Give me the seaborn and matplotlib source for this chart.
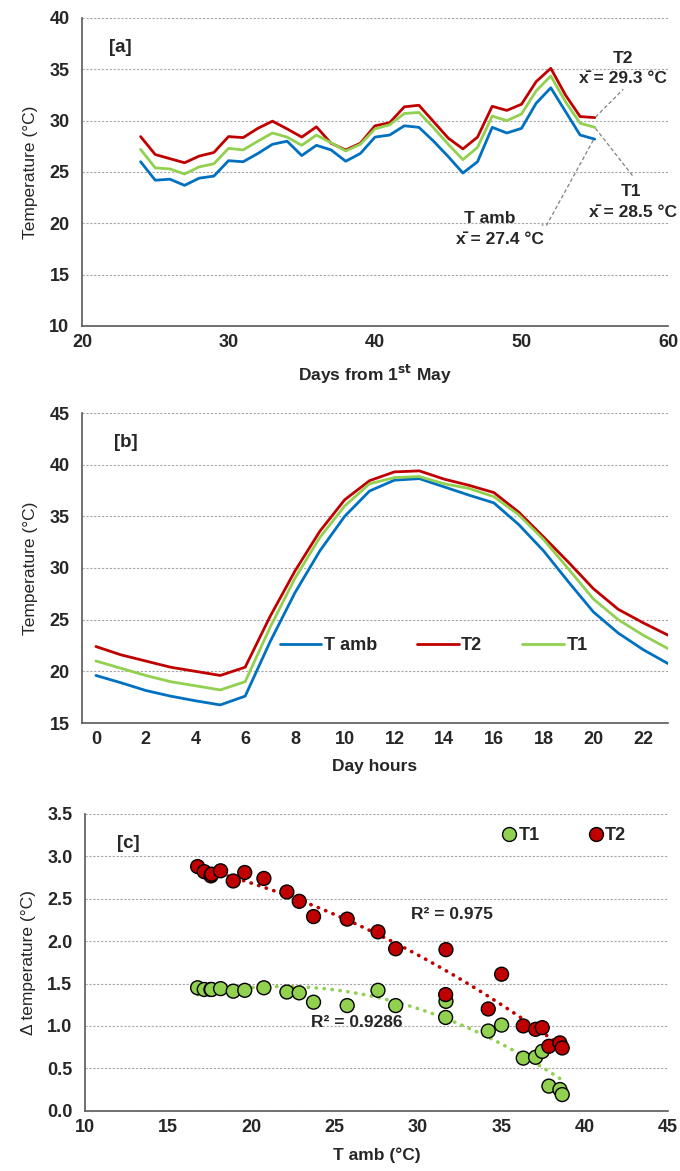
import numpy as np
import pandas as pd
import matplotlib
matplotlib.use("Agg")
import matplotlib.pyplot as plt
import seaborn as sns

# ---------------- data ----------------
days = list(range(24, 56))
tamb_days = [26.0, 24.2, 24.3, 23.7, 24.4, 24.6, 26.1, 26.0, 26.8, 27.7, 28.0, 26.6,
             27.6, 27.15, 26.05, 26.8, 28.4, 28.6, 29.5, 29.35, 28.0, 26.5, 24.9, 26.0,
             29.35, 28.8, 29.25, 31.7, 33.2, 30.9, 28.6, 28.2]
t1_days = [27.2, 25.4, 25.3, 24.8, 25.5, 25.8, 27.3, 27.15, 28.0, 28.8, 28.4, 27.6,
           28.6, 27.85, 27.05, 27.7, 29.2, 29.6, 30.7, 30.8, 29.3, 27.7, 26.2, 27.4,
           30.45, 30.0, 30.65, 32.9, 34.35, 31.85, 29.75, 29.35]
t2_days = [28.45, 26.7, 26.3, 25.9, 26.55, 26.9, 28.45, 28.35, 29.25, 29.95, 29.2, 28.4,
           29.4, 27.8, 27.15, 27.8, 29.5, 29.8, 31.35, 31.5, 29.9, 28.3, 27.25, 28.4,
           31.4, 31.0, 31.6, 33.8, 35.1, 32.5, 30.4, 30.3]

hours = list(range(24))
tamb_hours = [19.6, 18.9, 18.15, 17.6, 17.15, 16.75, 17.6, 22.85, 27.6, 31.65, 35.0, 37.45,
              38.5, 38.65, 37.85, 37.05, 36.3, 34.2, 31.65, 28.65, 25.75, 23.7, 22.1, 20.75]
t2_hours = [22.4, 21.6, 21.0, 20.4, 20.0, 19.6, 20.4, 25.3, 29.7, 33.55, 36.6, 38.45,
            39.3, 39.4, 38.6, 38.0, 37.3, 35.4, 33.0, 30.55, 28.0, 26.0, 24.7, 23.5]
t1_hours = [21.0, 20.3, 19.6, 19.0, 18.6, 18.2, 19.0, 24.25, 29.0, 32.95, 36.0, 38.15,
            38.75, 38.85, 38.15, 37.7, 36.9, 35.15, 32.75, 29.9, 27.0, 25.0, 23.5, 22.2]

tamb_c = [16.76, 17.16, 17.56, 17.6, 18.14, 18.9, 19.59, 20.74, 22.12, 22.86, 23.72, 25.74,
          27.59, 28.65, 31.67, 31.65, 35.01, 34.21, 36.31, 37.05, 37.45, 37.85, 38.51, 38.65]
d_t2 = [2.88, 2.82, 2.77, 2.79, 2.83, 2.71, 2.81, 2.74, 2.58, 2.47, 2.29, 2.26,
        2.11, 1.91, 1.90, 1.37, 1.61, 1.20, 1.00, 0.96, 0.98, 0.76, 0.80, 0.74]
d_t1 = [1.45, 1.43, 1.43, 1.43, 1.44, 1.41, 1.42, 1.45, 1.40, 1.39, 1.28, 1.24,
        1.42, 1.24, 1.29, 1.10, 1.01, 0.94, 0.62, 0.63, 0.70, 0.29, 0.25, 0.19]

series_names = ["T amb", "T2", "T1"]
colors = {"T amb": "#0070C0", "T2": "#C00000", "T1": "#92D050"}

# ---------------- style ----------------
sns.set_style("white")
plt.rcParams["font.family"] = ["Liberation Sans", "DejaVu Sans"]
plt.rcParams["font.weight"] = "bold"

TICK_FS = 13
LAB_FS = 12.5
GRID = dict(color="#a6a6a6", linestyle=(0, (2, 1.5)), linewidth=0.8)
SPINE = "#595959"

W, H = 680, 1171
fig = plt.figure(figsize=(W / 100, H / 100), dpi=100)


def frac(l, t, r, b):
    return [l / W, 1 - b / H, (r - l) / W, (b - t) / H]


def style_axes(ax):
    for s in ["top", "right"]:
        ax.spines[s].set_visible(False)
    for s in ["left", "bottom"]:
        ax.spines[s].set_color(SPINE)
        ax.spines[s].set_linewidth(1.2)
    ax.yaxis.grid(True, **GRID)
    ax.xaxis.grid(False)
    ax.set_axisbelow(True)
    ax.tick_params(axis="x", length=0, labelsize=TICK_FS, pad=6)
    ax.tick_params(axis="y", length=0, labelsize=TICK_FS, pad=9)
    for lab in ax.get_xticklabels() + ax.get_yticklabels():
        lab.set_fontweight("bold")


# ---------------- panel a ----------------
axa = fig.add_axes(frac(82, 18, 668, 326))
df_a = pd.DataFrame({"day": days * 3,
                     "temp": tamb_days + t2_days + t1_days,
                     "series": ["T amb"] * len(days) + ["T2"] * len(days) + ["T1"] * len(days)})
sns.lineplot(data=df_a, x="day", y="temp", hue="series", hue_order=series_names,
             palette=colors, linewidth=2.0, legend=False, ax=axa)
axa.set_xlim(20, 60)
axa.set_ylim(10, 40)
axa.set_xticks([20, 30, 40, 50, 60])
axa.set_yticks([10, 15, 20, 25, 30, 35, 40])
axa.set_xlabel("Days from 1$^{\\mathbf{st}}$ May", fontsize=LAB_FS, fontweight="bold", labelpad=8)
axa.set_ylabel("Temperature (°C)", fontsize=LAB_FS, fontweight="normal", labelpad=8)
style_axes(axa)
axa.text(0.065, 0.905, "[a]", transform=axa.transAxes, fontsize=13.5, fontweight="bold",
         ha="center", va="center")

lead = dict(color="#808080", linestyle=(0, (3, 2)), linewidth=0.9)
axa.plot([55.05, 56.95], [30.35, 33.06], **lead)
axa.plot([55.05, 57.63], [29.25, 24.55], **lead)
axa.plot([54.9, 51.72, 51.38], [28.1, 19.84, 19.84], **lead)
ann = dict(fontsize=12.5, fontweight="bold", ha="center", va="center")
xbar = "x\u0304"
axa.text(56.9, 36.05, "T2", **ann)
axa.text(56.9, 34.1, f"{xbar} = 29.3 °C", **ann)
axa.text(57.5, 23.1, "T1", **ann)
axa.text(57.6, 21.1, f"{xbar} = 28.5 °C", **ann)
axa.text(47.85, 20.5, "T amb", **ann)
axa.text(48.5, 18.4, f"{xbar} = 27.4 °C", **ann)

# ---------------- panel b ----------------
axb = fig.add_axes(frac(82, 413, 668, 723))
df_b = pd.DataFrame({"hour": hours * 3,
                     "temp": tamb_hours + t2_hours + t1_hours,
                     "series": ["T amb"] * 24 + ["T2"] * 24 + ["T1"] * 24})
sns.lineplot(data=df_b, x="hour", y="temp", hue="series", hue_order=series_names,
             palette=colors, linewidth=2.0, ax=axb)
axb.set_xlim(-0.56, 23.0)
axb.set_ylim(15, 45)
axb.set_xticks(list(range(0, 23, 2)))
axb.set_yticks([15, 20, 25, 30, 35, 40, 45])
axb.set_xlabel("Day hours", fontsize=LAB_FS, fontweight="bold", labelpad=8)
axb.set_ylabel("Temperature (°C)", fontsize=LAB_FS, fontweight="normal", labelpad=8)
style_axes(axb)
leg = axb.legend(loc="center", bbox_to_anchor=(0.6, 0.25), ncol=3, frameon=False,
                 fontsize=13, handlelength=2.3, columnspacing=2.2, handletextpad=0.15)
for t in leg.get_texts():
    t.set_fontweight("bold")
axb.text(0.075, 0.905, "[b]", transform=axb.transAxes, fontsize=13.5, fontweight="bold",
         ha="center", va="center")

# ---------------- panel c ----------------
axc = fig.add_axes(frac(85, 814, 668, 1110.7))
df_c = pd.DataFrame({"tamb": tamb_c * 2, "delta": d_t1 + d_t2,
                     "series": ["T1"] * len(tamb_c) + ["T2"] * len(tamb_c)})
# trendlines (2nd order polynomial)
xs = np.linspace(min(tamb_c), max(tamb_c), 200)
for name, vals in [("T2", d_t2), ("T1", d_t1)]:
    coef = np.polyfit(tamb_c, vals, 2)
    axc.plot(xs, np.polyval(coef, xs), color=colors[name], linewidth=2.6,
             linestyle=(0, (0.1, 2.1)), dash_capstyle="round", zorder=2)
sns.scatterplot(data=df_c, x="tamb", y="delta", hue="series", hue_order=["T1", "T2"],
                palette=colors, s=100, edgecolor="black", linewidth=1.0, zorder=3, ax=axc)
axc.set_xlim(10, 45)
axc.set_ylim(0, 3.5)
axc.set_xticks([10, 15, 20, 25, 30, 35, 40, 45])
axc.set_yticks(np.arange(0, 3.51, 0.5))
axc.set_yticklabels([f"{v:.1f}" for v in np.arange(0, 3.51, 0.5)])
axc.set_xlabel("T amb (°C)", fontsize=LAB_FS, fontweight="bold", labelpad=8)
axc.set_ylabel("Δ temperature (°C)", fontsize=LAB_FS, fontweight="normal", labelpad=8)
style_axes(axc)
legc = axc.legend(loc="center", bbox_to_anchor=(0.82, 0.926), ncol=2, frameon=False,
                  fontsize=13, handletextpad=0.0, handlelength=1.0, columnspacing=2.6)
for t in legc.get_texts():
    t.set_fontweight("bold")
axc.text(0.075, 0.9, "[c]", transform=axc.transAxes, fontsize=13.5, fontweight="bold",
         ha="center", va="center")
axc.text(32.0, 2.31, "R² = 0.975", fontsize=12.5, fontweight="bold", ha="center", va="center")
axc.text(26.3, 1.04, "R² = 0.9286", fontsize=12.5, fontweight="bold", ha="center", va="center")

fig.savefig("out.png", dpi=100)
